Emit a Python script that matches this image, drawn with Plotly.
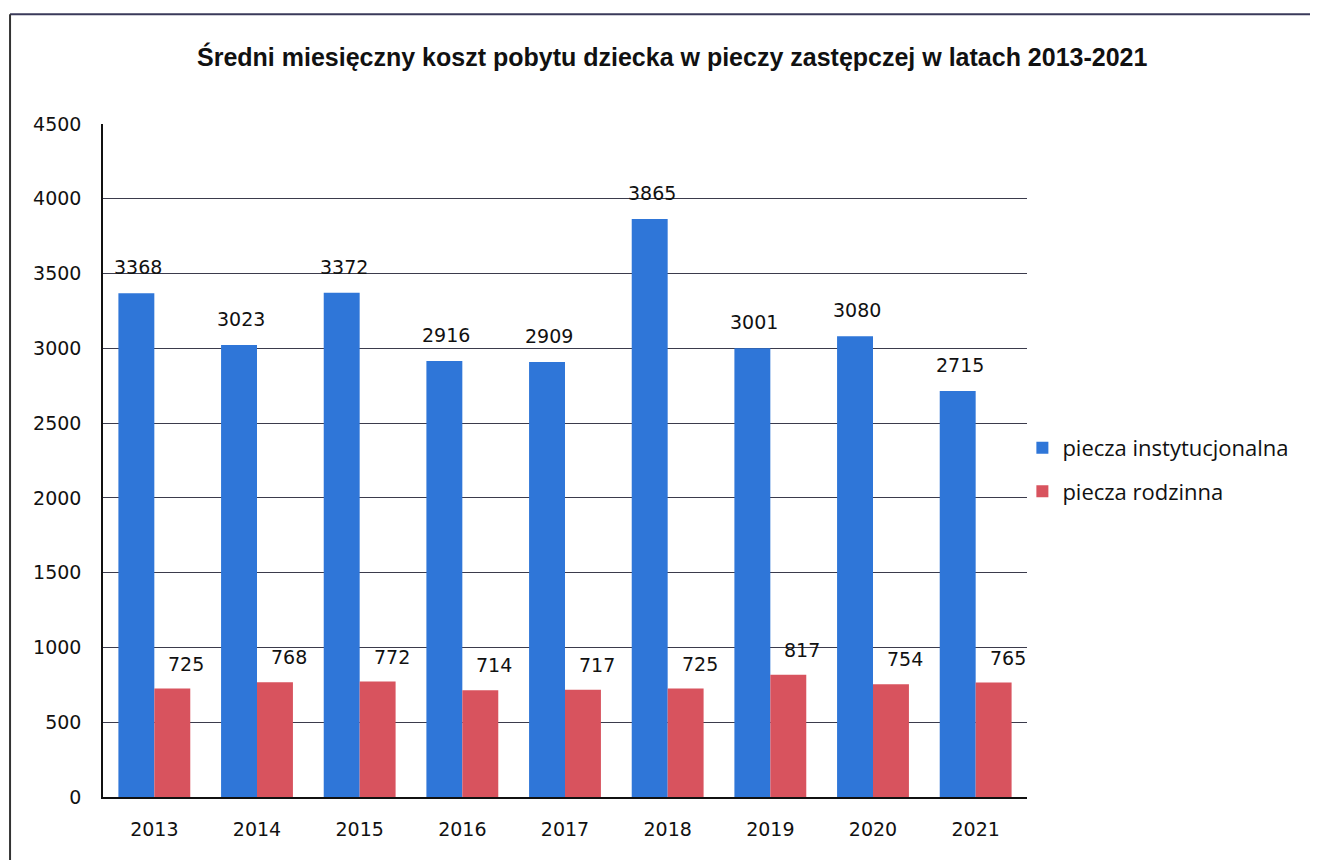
import plotly.graph_objects as go

years = ["2013", "2014", "2015", "2016", "2017", "2018", "2019", "2020", "2021"]
instytucjonalna = [3368, 3023, 3372, 2916, 2909, 3865, 3001, 3080, 2715]
rodzinna = [725, 768, 772, 714, 717, 725, 817, 754, 765]
series_names = ["piecza instytucjonalna", "piecza rodzinna"]
title_text = "Średni miesięczny koszt pobytu dziecka w pieczy zastępczej w latach 2013-2021"

BLUE = "#2f76d8"
RED = "#d8535e"
GRID = "#3b3b4c"

fig = go.Figure()
fig.add_trace(go.Bar(x=years, y=instytucjonalna, name=series_names[0],
                     marker=dict(color=BLUE, line=dict(width=0)), legendgroup="a"))
fig.add_trace(go.Bar(x=years, y=rodzinna, name=series_names[1],
                     marker=dict(color=RED, line=dict(width=0)), legendgroup="b"))

annotations = []
for i, v in enumerate(instytucjonalna):
    annotations.append(dict(x=i, y=v, text=str(v), showarrow=False, xref="x", yref="y",
                            xshift=-16, yshift=26, yanchor="middle",
                            font=dict(family="DejaVu Sans", size=19, color="#111")))
for i, v in enumerate(rodzinna):
    annotations.append(dict(x=i, y=v, text=str(v), showarrow=False, xref="x", yref="y",
                            xshift=32, yshift=25, yanchor="middle",
                            font=dict(family="DejaVu Sans", size=19, color="#111")))

annotations.append(dict(text="<b>" + title_text + "</b>", xref="paper", yref="paper",
                        x=0.616, y=1.1, xanchor="center", yanchor="middle", showarrow=False,
                        font=dict(family="Liberation Sans Narrow, Liberation Sans, sans-serif",
                                  size=25, color="#111")))

fig.update_layout(
    width=1310, height=852,
    margin=dict(l=95, r=291, t=116, b=63),
    paper_bgcolor="white", plot_bgcolor="white",
    barmode="group", bargap=0.3, bargroupgap=0,
    showlegend=True,
    legend=dict(x=0.995, y=0.55, xanchor="left", yanchor="top",
                traceorder="grouped", tracegroupgap=12,
                font=dict(family="Open Sans", size=22, color="#111"),
                itemwidth=30, bgcolor="rgba(0,0,0,0)"),
    annotations=annotations,
    xaxis=dict(type="category", range=[-0.5, len(years) - 0.5],
               showline=True, linecolor="#111", linewidth=1.5, ticks="",
               tickfont=dict(family="DejaVu Sans", size=19, color="#111"),
               ticklabelstandoff=14, showgrid=False),
    yaxis=dict(range=[0, 4500], dtick=500, showline=True, linecolor="#111", linewidth=1.5,
               showgrid=True, gridcolor=GRID, gridwidth=1.2, ticks="",
               ticklabelstandoff=16,
               tickfont=dict(family="DejaVu Sans", size=19, color="#111"),
               zeroline=False),
    shapes=[
        dict(type="line", xref="paper", yref="paper", x0=-0.1006, x1=1.32, y0=1.163, y1=1.163,
             line=dict(color="#3a3a5a", width=2)),
        dict(type="line", xref="paper", yref="paper", x0=-0.1006, x1=-0.1006, y0=1.163, y1=-0.1,
             line=dict(color="#333", width=2)),
    ],
)

fig.write_html("out.html")
